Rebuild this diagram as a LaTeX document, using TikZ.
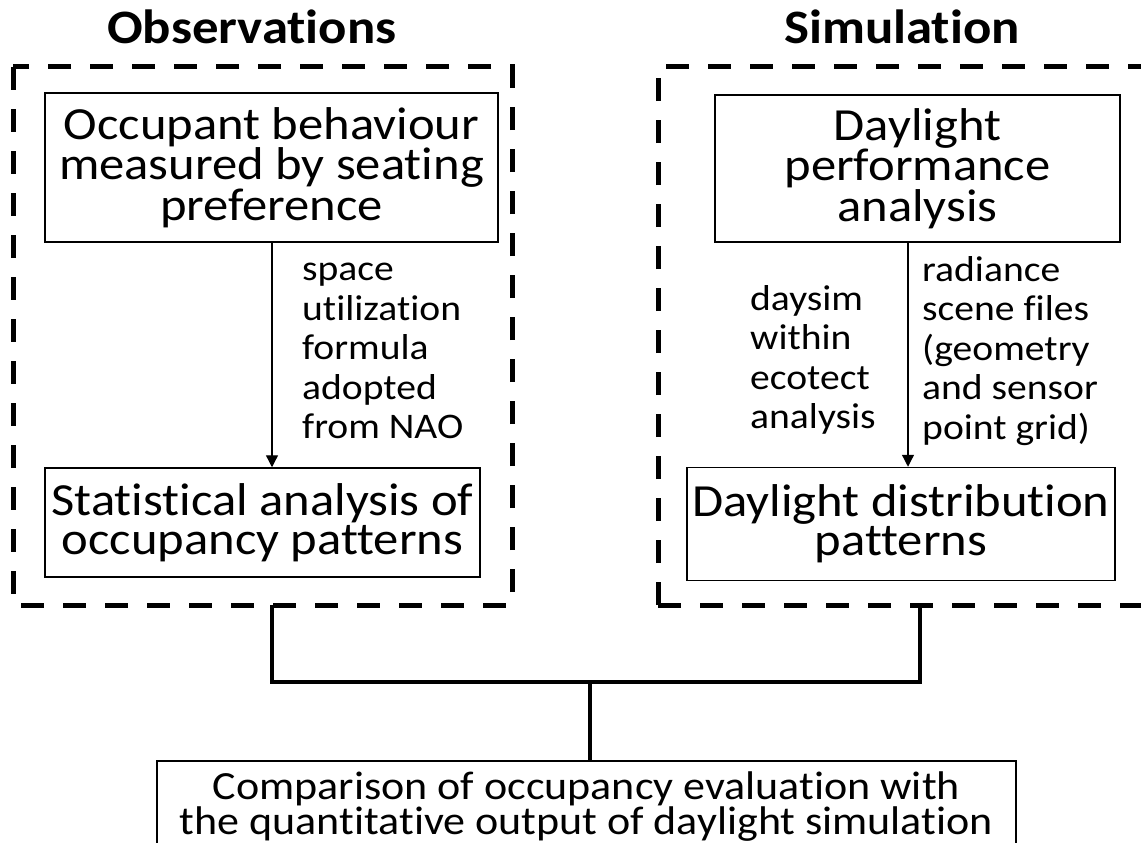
\documentclass[tikz,border=0pt]{standalone}
\usepackage{fontspec}
\setmainfont{Carlito}[FakeStretch=1.1, Ligatures=NoCommon]
\usepackage{tikz}
\usetikzlibrary{arrows.meta}

\begin{document}
\begin{tikzpicture}[x=1pt, y=-1pt,
    title/.style={font=\fontsize{48}{39}\selectfont\bfseries, inner sep=0},
    stepbox/.style={draw, line width=1.5pt, align=center, inner sep=0,
        font=\fontsize{46}{39}\selectfont},
    note/.style={align=left, inner sep=0, anchor=west,
        font=\fontsize{36}{39.5}\selectfont},
    groupbox/.style={draw, line width=5pt, dash pattern=on 23pt off 19pt},
    flow/.style={-{Triangle[length=12pt, width=12pt]}, line width=1.3pt},
    joinline/.style={line width=3.5pt}]
    \clip (0, 0) rectangle (1141, 843);
    \fill[white] (0, 0) rectangle (1141, 843);
    % titles
    \node[title] (obstitle) at (252, 27) {Observations};
    \node[title] (simtitle) at (902, 27) {Simulation};
    % dashed groups
    \draw[groupbox] (13, 67) rectangle (512, 605);
    \draw[groupbox] (658, 605) -- (658, 67) -- (1170, 67);
    \draw[groupbox] (658, 605) -- (1170, 605);
    % observations
    \node[stepbox, minimum width=453, minimum height=149] (occupant) at (271.5, 167.5)
        {Occupant behaviour\\measured by seating\\preference};
    \node[stepbox, minimum width=435, minimum height=109] (statistic) at (262.5, 522.5)
        {Statistical analysis of\\occupancy patterns};
    \draw[flow] (occupant.south -| 272, 0) -- (statistic.north -| 272, 0);
    \node[note] (spacenote) at (302, 351)
        {space\\utilization\\formula\\adopted\\from NAO};
    % simulation
    \node[stepbox, minimum width=405, minimum height=147] (performance) at (917.5, 168.5)
        {Daylight\\performance\\analysis};
    \node[stepbox, minimum width=428, minimum height=113] (distribution) at (901, 524)
        {Daylight distribution\\patterns};
    \draw[flow] (performance.south -| 908, 0) -- (distribution.north -| 908, 0);
    \node[note] (daysimnote) at (750, 360)
        {daysim\\within\\ecotect\\analysis};
    \node[note] (radiancenote) at (922, 351)
        {radiance\\scene files\\(geometry\\and sensor\\point grid)};
    % comparison
    \node[stepbox, minimum width=859, minimum height=140, anchor=north] (compare) at (586.5, 760)
        {};
    \node[inner sep=0, align=center, font=\fontsize{40}{35}\selectfont] (comparetext) at (586.5, 807)
        {Comparison of occupancy evaluation with\\the quantitative output of daylight simulation};
    \coordinate (obsout) at (272, 605);
    \coordinate (simout) at (920, 605);
    \coordinate (join) at (590, 682);
    \draw[joinline] (obsout) |- (join) -| (simout);
    \draw[joinline] (join) -- (join |- compare.north);
\end{tikzpicture}
\end{document}
